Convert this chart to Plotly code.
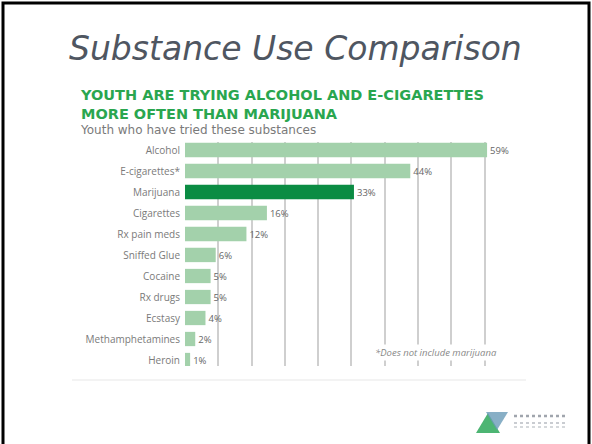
import plotly.graph_objects as go

# Share of youth who have tried each substance (%)
substances = ["Alcohol", "E-cigarettes*", "Marijuana", "Cigarettes", "Rx pain meds",
              "Sniffed Glue", "Cocaine", "Rx drugs", "Ecstasy", "Methamphetamines", "Heroin"]
percent = [59, 44, 33, 16, 12, 6, 5, 5, 4, 2, 1]
highlight = "Marijuana"

W, H = 592, 444
LIGHT = "#a3d1ab"
DARK = "#0b8c43"

colors = [DARK if s == highlight else LIGHT for s in substances]

# pixel layout of the plotting area
x_left, px_per_pct = 185, 5.12
x_max = 60
y_top, y_bot = 142, 366
row = 21.0
n = len(substances)
y_hi = -(150 - y_top) / row          # first category centred at 150px
y_lo = (n - 1) + (y_bot - (150 + row * (n - 1))) / row

fig = go.Figure(go.Bar(
    x=percent, y=substances, orientation="h",
    marker=dict(color=colors, line=dict(width=0)),
    width=0.68,
    text=[f"{v}%" for v in percent], textposition="outside",
    textfont=dict(family="Open Sans", size=9.5, color="#666666"),
    cliponaxis=False, hoverinfo="skip",
))

fig.update_layout(
    width=W, height=H,
    margin=dict(l=0, r=0, t=0, b=0),
    paper_bgcolor="white", plot_bgcolor="white",
    showlegend=False,
    xaxis=dict(
        domain=[x_left / W, (x_left + x_max * px_per_pct) / W],
        range=[0, x_max], dtick=6.5, tick0=0,
        showgrid=True, gridcolor="#cfcfcf", gridwidth=2,
        showticklabels=False, zeroline=False, showline=False, ticks="",
    ),
    yaxis=dict(
        domain=[1 - y_bot / H, 1 - y_top / H],
        range=[y_lo, y_hi], type="category",
        showgrid=False, zeroline=False, showline=False, ticks="",
        ticklabelstandoff=4,
        tickfont=dict(family="Open Sans", size=10, color="#7a7a7a"),
    ),
    font=dict(family="Open Sans"),
)

annotations = [
    dict(text="<i>Substance Use Comparison</i>", x=295 / W, y=1 - 49 / H,
         font=dict(family="DejaVu Sans", size=33, color="#4f5661")),
    dict(text="<b>YOUTH ARE TRYING ALCOHOL AND E-CIGARETTES<br>MORE OFTEN THAN MARIJUANA</b>",
         x=78 / W, y=1 - 104 / H, xanchor="left", align="left",
         font=dict(family="DejaVu Sans", size=14.5, color="#2aa64f")),
    dict(text="Youth who have tried these substances", x=78 / W, y=1 - 130 / H,
         xanchor="left", font=dict(family="DejaVu Sans", size=12, color="#7a7a7a")),
    dict(text="<i>*Does not include marijuana</i>", x=436 / W, y=1 - 352 / H,
         bgcolor="white", borderpad=1,
         font=dict(family="Open Sans", size=9.5, color="#888888")),
]
for a in annotations:
    a.setdefault("xanchor", "center")
    fig.add_annotation(xref="paper", yref="paper", yanchor="middle", showarrow=False, **a)

def px(x, y):
    return x / W, 1 - y / H

shapes = []
# slide frame
x0, y0 = px(3, 3)
x1, y1 = px(589, 460)
shapes.append(dict(type="rect", xref="paper", yref="paper", x0=x0, y0=y1, x1=x1, y1=y0,
                   line=dict(color="black", width=3)))
# faint rule under the chart
a0, b0 = px(72, 380)
a1, _ = px(526, 380)
shapes.append(dict(type="line", xref="paper", yref="paper", x0=a0, y0=b0, x1=a1, y1=b0,
                   line=dict(color="#efefef", width=1.5)))
# coalition logo mark
tri_green = "M {} {} L {} {} L {} {} Z".format(*px(476, 433), *px(488, 413), *px(500, 433))
tri_blue = "M {} {} L {} {} L {} {} Z".format(*px(486, 412), *px(508, 412), *px(497, 430))
shapes.append(dict(type="path", xref="paper", yref="paper", path=tri_green,
                   fillcolor="#2ea85a", line=dict(width=0), opacity=0.85))
shapes.append(dict(type="path", xref="paper", yref="paper", path=tri_blue,
                   fillcolor="#6a9bb8", line=dict(width=0), opacity=0.8))
for (lx0, ly, lx1, c, w) in [(514, 416, 566, "#a0a5ad", 2.5), (514, 423, 565, "#b8bcc2", 1.5),
                             (514, 427, 565, "#c8cbcf", 1.5)]:
    p0 = px(lx0, ly)
    p1 = px(lx1, ly)
    shapes.append(dict(type="line", xref="paper", yref="paper", x0=p0[0], y0=p0[1], x1=p1[0], y1=p1[1],
                       line=dict(color=c, width=w, dash="dot")))
fig.update_layout(shapes=shapes)

fig.write_html("out.html")
